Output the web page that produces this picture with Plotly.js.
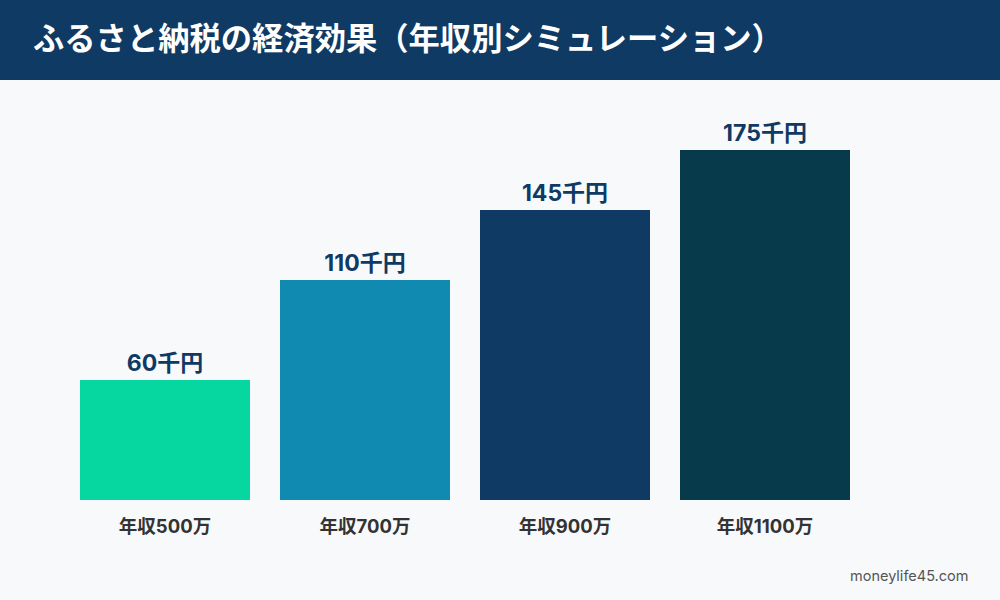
<!DOCTYPE html>
<html>
<head>
<meta charset="utf-8">
<script src="https://cdn.plot.ly/plotly-3.0.1.min.js"></script>
<style>html,body{margin:0;padding:0;background:#f8f9fb;}#chart{width:1000px;height:600px;}</style>
</head>
<body>
<div id="chart"></div>
<script>
const categories = ["年収500万", "年収700万", "年収900万", "年収1100万"];
const values = [60, 110, 145, 175];
const valueLabels = ["60千円", "110千円", "145千円", "175千円"];
const barColors = ["#06d6a0", "#118ab2", "#0f3a64", "#073b4c"];
const titleText = "ふるさと納税の経済効果（年収別シミュレーション）";
const sourceText = "moneylife45.com";

const font = 'Inter, "Noto Sans CJK JP", "Noto Sans", sans-serif';
const L = 65, R = 135, T = 80, B = 100, W = 1000, H = 600;
const pw = W - L - R, ph = H - T - B;

const trace = {
  type: "bar",
  x: categories,
  y: values,
  text: valueLabels,
  textposition: "outside",
  cliponaxis: false,
  textfont: {family: font, size: 23, color: "#0f3a64", weight: 700},
  marker: {color: barColors, line: {width: 0}},
  width: 0.85,
  hoverinfo: "none"
};

const layout = {
  width: W, height: H,
  margin: {l: L, r: R, t: T, b: B, pad: 0},
  paper_bgcolor: "#f8f9fb",
  plot_bgcolor: "#f8f9fb",
  showlegend: false,
  xaxis: {
    type: "category",
    range: [-0.5, 3.5],
    showgrid: false, zeroline: false, showline: false, ticks: "",
    tickfont: {family: font, size: 18.5, color: "#333333", weight: 700},
    ticklabelstandoff: 13,
    fixedrange: true
  },
  yaxis: {
    range: [0, 210],
    visible: false,
    fixedrange: true
  },
  shapes: [{
    type: "rect", xref: "paper", yref: "paper",
    x0: -L / pw, x1: 1 + R / pw, y0: 1, y1: 1 + T / ph,
    fillcolor: "#0f3a64", line: {width: 0}, layer: "below"
  }],
  annotations: [{
    text: titleText, xref: "paper", yref: "paper",
    x: (31 - L) / pw, y: 1 + 41 / ph, xanchor: "left", yanchor: "middle",
    showarrow: false,
    font: {family: font, size: 31.3, color: "#ffffff", weight: 700}
  }, {
    text: sourceText, xref: "paper", yref: "paper",
    x: (970 - L) / pw, y: -(575 - (H - B)) / ph, xanchor: "right", yanchor: "middle",
    showarrow: false,
    font: {family: font, size: 14.5, color: "#555555"}
  }]
};

Plotly.newPlot("chart", [trace], layout, {displayModeBar: false, staticPlot: true});
</script>
</body>
</html>
